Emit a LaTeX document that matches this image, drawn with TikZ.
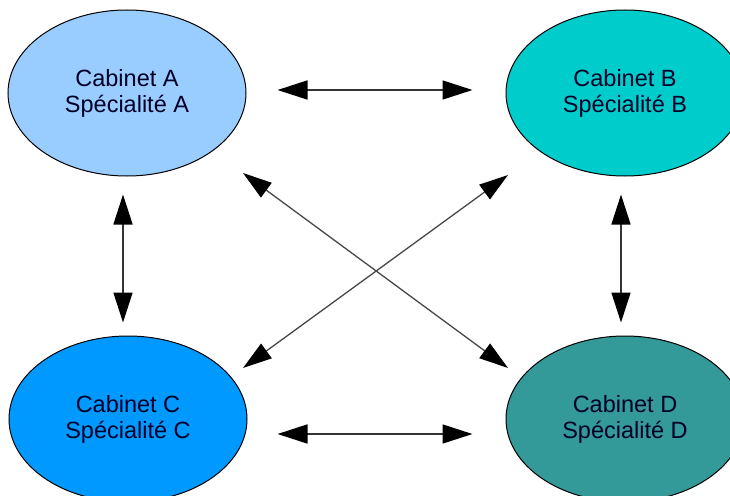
\documentclass[tikz,border=0pt]{standalone}
\usepackage{fontspec}
\setmainfont{Liberation Sans}
\usetikzlibrary{shapes.geometric,arrows.meta}
\definecolor{colA}{HTML}{99CCFF}
\definecolor{colB}{HTML}{00CCCC}
\definecolor{colC}{HTML}{0099FF}
\definecolor{colD}{HTML}{339999}
\tikzset{
  cab/.style={ellipse, draw=black, line width=1pt, minimum width=238pt, minimum height=166pt,
    inner sep=0pt, align=center, font=\fontsize{23.5}{26}\selectfont, text=black!85!blue},
  link/.style={line width=1.5pt, draw=black!80,
    {Triangle[length=30pt,width=19pt,color=black]}-{Triangle[length=30pt,width=19pt,color=black]}},
  xlink/.style={line width=1.3pt, draw=black!72,
    {Triangle[length=29pt,width=18pt,color=black]}-{Triangle[length=29pt,width=18pt,color=black]}}
}
\begin{document}
\begin{tikzpicture}[x=1pt,y=-1pt]
\useasboundingbox (0,0) rectangle (730,495);
\clip (0,0) rectangle (730,495);
\node[cab, fill=colA] (A) at (127,93) {Cabinet A\\Spécialité A};
\node[cab, fill=colB] (B) at (625,93) {Cabinet B\\Spécialité B};
\node[cab, fill=colC] (C) at (128,419) {Cabinet C\\Spécialité C};
\node[cab, fill=colD] (D) at (625,419) {Cabinet D\\Spécialité D};
% horizontal
\draw[link, shorten <=31pt, shorten >=33pt] ([yshift=3pt]A.east) -- ([yshift=3pt]B.west);
\draw[link, shorten <=30pt, shorten >=33pt] ([yshift=-15pt]C.east) -- ([yshift=-15pt]D.west);
% vertical
\draw[link, shorten <=18pt, shorten >=13pt] ([xshift=-4pt]A.south) -- ([xshift=-5pt]C.north);
\draw[link, shorten <=18pt, shorten >=13pt] ([xshift=-4pt]B.south) -- ([xshift=-4pt]D.north);
% diagonals
\coordinate (ad1) at (243,173);
\coordinate (ad2) at (508,368);
\coordinate (bc1) at (508,175);
\coordinate (bc2) at (243,368);
\draw[xlink] (ad1) -- (ad2);
\draw[xlink] (bc1) -- (bc2);
\end{tikzpicture}
\end{document}
